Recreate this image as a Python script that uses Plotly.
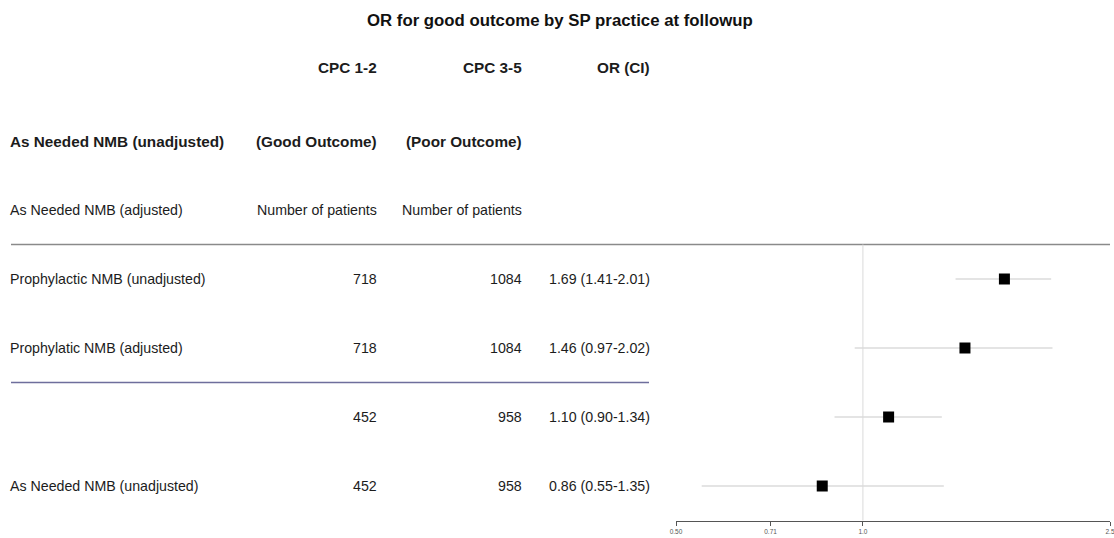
import math
import plotly.graph_objects as go

# ---- table / forest data -------------------------------------------------
row_labels = [
    "Prophylactic NMB (unadjusted)",
    "Prophylatic NMB (adjusted)",
    "",
    "As Needed NMB (unadjusted)",
]
good_outcome_n = [718, 718, 452, 452]
poor_outcome_n = [1084, 1084, 958, 958]
odds_ratio = [1.69, 1.46, 1.10, 0.86]
ci_low = [1.41, 0.97, 0.90, 0.55]
ci_high = [2.01, 2.02, 1.34, 1.35]

tick_vals = [0.50, 0.71, 1.0, 2.5]
tick_text = ["0.50", "0.71", "1.0", "2.5"]

title_text = "OR for good outcome by SP practice at followup"
header_rows = [
    # (row position, label, col1, col2, col3, bold)
    (-3.06, "", "CPC 1-2", "CPC 3-5", "OR (CI)", True),
    (-2.0, "As Needed NMB (unadjusted)", "(Good Outcome)", "(Poor Outcome)", "", True),
    (-1.0, "As Needed NMB (adjusted)", "Number of patients", "Number of patients", "", False),
]

# ---- geometry ------------------------------------------------------------
W, H = 1114, 538
FONT = "Liberation Sans, Arial, Helvetica, sans-serif"
TEXT_COLOR = "#1c1c1c"
rows = list(range(len(row_labels)))

x_label = 10 / W
x_col1 = 376 / W
x_col2 = 521 / W
x_col3 = 649 / W

fig = go.Figure()

# confidence interval whiskers
seg_x, seg_y = [], []
for r, lo, hi in zip(rows, ci_low, ci_high):
    seg_x += [lo, hi, None]
    seg_y += [r, r, None]
fig.add_trace(go.Scatter(
    x=seg_x, y=seg_y, mode="lines",
    line=dict(color="#c9c9c9", width=1),
    hoverinfo="skip", showlegend=False,
))

# point estimates
fig.add_trace(go.Scatter(
    x=odds_ratio, y=rows, mode="markers",
    marker=dict(symbol="square", size=11, color="black"),
    showlegend=False,
))

anns = []

def txt(x, y, s, anchor, size=14.2, bold=False):
    if not s:
        return
    anns.append(dict(
        x=x, y=y, xref="paper", yref="y", text=f"<b>{s}</b>" if bold else s,
        showarrow=False, xanchor=anchor, yanchor="middle",
        xshift=-1.5 if anchor == "left" else 1.5,
        borderpad=0,
        font=dict(family=FONT, size=size, color=TEXT_COLOR),
    ))

for y, lab, c1, c2, c3, bold in header_rows:
    size = 15.3 if bold else 14.2
    txt(x_label, y, lab, "left", size, bold)
    txt(x_col1, y, c1, "right", size, bold)
    txt(x_col2, y, c2, "right", size, bold)
    txt(x_col3, y, c3, "right", size, bold)

for r, lab, g, p, o, lo, hi in zip(rows, row_labels, good_outcome_n,
                                   poor_outcome_n, odds_ratio, ci_low, ci_high):
    txt(x_label, r, lab, "left")
    txt(x_col1, r, str(g), "right")
    txt(x_col2, r, str(p), "right")
    txt(x_col3, r, f"{o:.2f} ({lo:.2f}-{hi:.2f})", "right")

anns.append(dict(
    x=560 / W, y=1 - 20 / H, xref="paper", yref="paper", yanchor="middle",
    text=f"<b>{title_text}</b>", showarrow=False,
    font=dict(family=FONT, size=16.8, color="#111"),
))

shapes = [
    # rule under the header block
    dict(type="line", xref="paper", yref="y", x0=11 / W, x1=1110 / W,
         y0=-0.5, y1=-0.5, line=dict(color="#8a8a8a", width=1.5)),
    # separator between groups
    dict(type="line", xref="paper", yref="y", x0=11 / W, x1=649 / W,
         y0=1.5, y1=1.5, line=dict(color="#6e6e9c", width=1.5)),
    # line of no effect
    dict(type="line", xref="x", yref="y", x0=1, x1=1,
         y0=-0.5, y1=3.5, line=dict(color="#dadada", width=1)),
]

top_val = -279 / 69
bot_val = (H - 279) / 69

fig.update_layout(
    width=W, height=H,
    margin=dict(l=0, r=0, t=0, b=0, pad=0, autoexpand=False),
    paper_bgcolor="white", plot_bgcolor="white",
    annotations=anns, shapes=shapes,
    xaxis=dict(
        type="log",
        domain=[676 / W, 1110 / W],
        range=[math.log10(0.5), math.log10(2.5)],
        tickvals=tick_vals, ticktext=tick_text,
        showgrid=False, zeroline=False,
        showline=True, linecolor="#555", linewidth=1,
        ticks="outside", ticklen=4, tickcolor="#555",
        tickfont=dict(family=FONT, size=6.5, color="#555"),
        ticklabeloverflow="allow",
        automargin=False,
        anchor="free", position=1 - 521 / H,
    ),
    yaxis=dict(
        range=[bot_val, top_val],
        visible=False, showgrid=False, zeroline=False,
        automargin=False,
    ),
)

fig.write_html("out.html")
